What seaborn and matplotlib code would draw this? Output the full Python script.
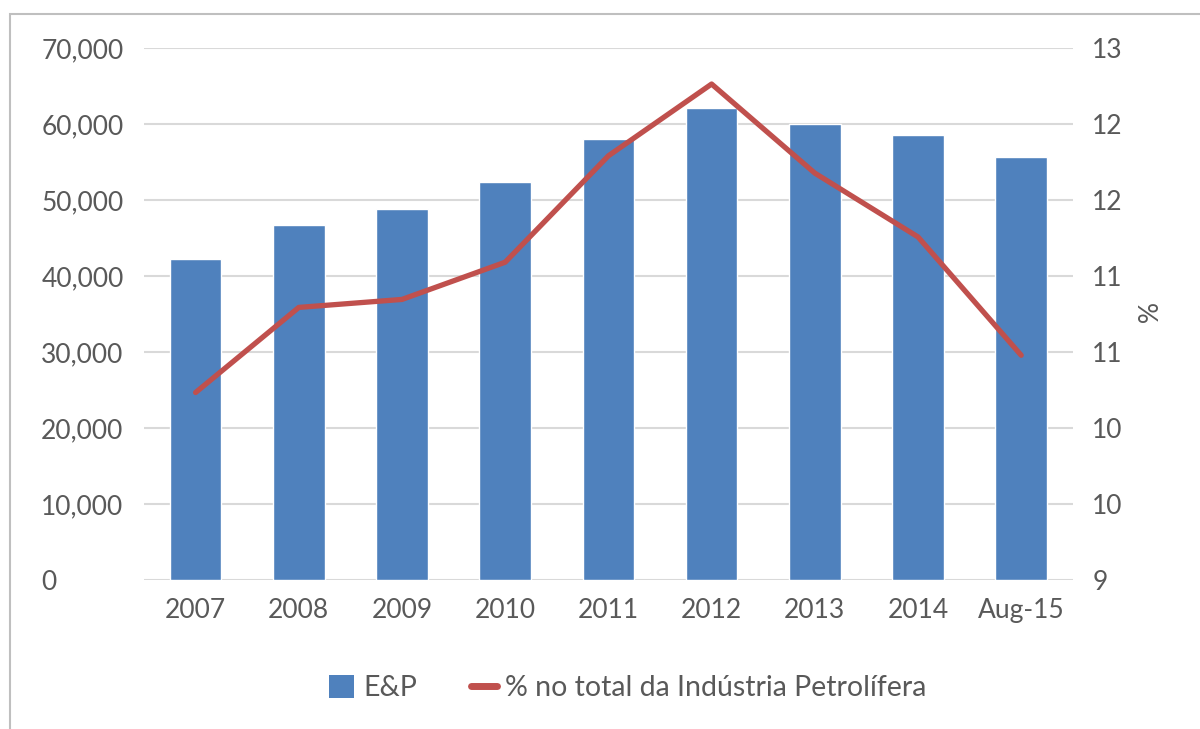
import numpy as np
import pandas as pd
import matplotlib
matplotlib.use("Agg")
import matplotlib.pyplot as plt
import matplotlib.ticker as mticker
from matplotlib.patches import Patch, Rectangle
from matplotlib.lines import Line2D
import seaborn as sns

# Data
categories = ["2007", "2008", "2009", "2010", "2011", "2012", "2013", "2014", "Aug-15"]
ep_values = [42200, 46700, 48800, 52400, 58100, 62100, 60000, 58500, 55700]
pct_share = [10.41, 11.05, 11.11, 11.39, 12.19, 12.73, 12.06, 11.58, 10.69]

bar_label = "E&P"
line_label = "% no total da Indústria Petrolífera"
right_axis_title = "%"

BLUE = "#4F81BD"
RED = "#C0504D"
TEXT = "#595959"
GRID = "#D9D9D9"

sns.set_theme(style="white")
plt.rcParams["font.family"] = ["Lato", "DejaVu Sans"]

df = pd.DataFrame({"cat": categories, "ep": ep_values, "pct": pct_share})

fig = plt.figure(figsize=(12, 7.29), dpi=100)
ax = fig.add_axes([0.12, 0.2044, 0.774, 0.7296])

sns.barplot(data=df, x="cat", y="ep", color=BLUE, width=0.5, ax=ax,
            saturation=1, zorder=3)
ax.set_ylim(0, 70000)
ax.set_yticks(np.arange(0, 70001, 10000))
ax.yaxis.set_major_formatter(mticker.FuncFormatter(lambda v, p: f"{v:,.0f}"))
ax.grid(axis="y", color=GRID, linewidth=1.5, zorder=0)
ax.set_axisbelow(True)
ax.set_xlabel("")
ax.set_ylabel("")
for s in ax.spines.values():
    s.set_visible(False)
ax.tick_params(axis="x", length=0, pad=13, labelsize=19, labelcolor=TEXT)
ax.tick_params(axis="y", length=0, pad=74, labelsize=19, labelcolor=TEXT)
for lbl in ax.get_yticklabels():
    lbl.set_horizontalalignment("left")

ax2 = ax.twinx()
sns.lineplot(data=df, x="cat", y="pct", color=RED, linewidth=3.8, ax=ax2,
             sort=False, legend=False)
ax2.set_ylim(9, 13)
ax2.set_yticks(np.linspace(9, 13, 8))
ax2.yaxis.set_major_formatter(mticker.FuncFormatter(lambda v, p: f"{v:.0f}"))
ax2.set_xlabel("")
ax2.set_ylabel(right_axis_title, rotation=270, color=TEXT, fontsize=19, labelpad=24)
ax2.tick_params(axis="y", length=0, pad=14, labelsize=19, labelcolor=TEXT)
ax2.grid(False)
for s in ax2.spines.values():
    s.set_visible(False)
ax.set_xlim(-0.5, len(categories) - 0.5)

handles = [Patch(facecolor=BLUE, edgecolor="none"),
           Line2D([0], [0], color=RED, linewidth=5)]
fig.legend(handles, [bar_label, line_label], loc="center", ncol=2,
           bbox_to_anchor=(0.523, 0.056), frameon=False, fontsize=20.5,
           labelcolor=TEXT, handlelength=0.9, handleheight=0.9,
           handletextpad=0.3, columnspacing=1.9)

# outer chart frame
fig.patches.append(Rectangle((10 / 1200, -0.1), 1.2, (729 - 14) / 729 + 0.1,
                             transform=fig.transFigure, fill=False,
                             edgecolor="#BFBFBF", linewidth=1.5))

fig.savefig("out.png", dpi=100)
